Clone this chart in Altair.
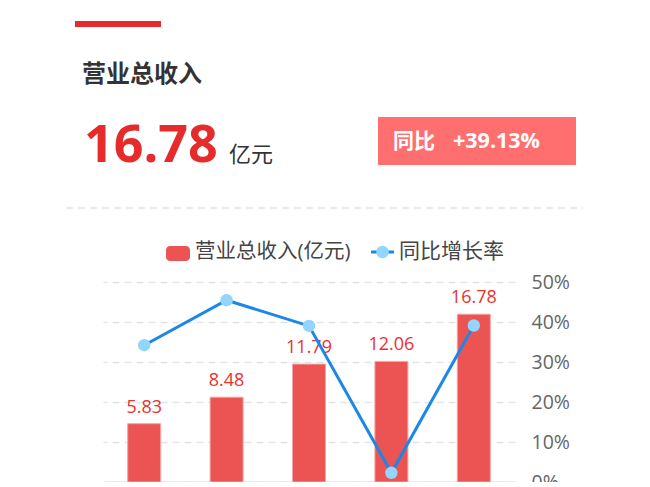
import altair as alt
import pandas as pd

# ---- data ----
periods = ["P1", "P2", "P3", "P4", "P5"]
revenue = [5.83, 8.48, 11.79, 12.06, 16.78]          # 营业总收入(亿元)
growth = [0.342, 0.4545, 0.3903, 0.0229, 0.3913]      # 同比增长率
right_ticks = [0, 0.1, 0.2, 0.3, 0.4, 0.5]

df = pd.DataFrame({"period": periods, "revenue": revenue, "growth": growth})
one = pd.DataFrame({"k": [0]})

FONT = "'Open Sans', 'Noto Sans CJK SC', sans-serif"
CJK = "'Noto Sans CJK SC', sans-serif"
RED = "#E52B2B"
BAR = "#EC5353"
BLUE = "#1B87E6"
DOT = "#92D5FF"

x_enc = alt.X("period:N", sort=periods,
              scale=alt.Scale(paddingInner=0, paddingOuter=0),
              axis=alt.Axis(title=None, labels=False, ticks=False, grid=False,
                            domain=True, domainColor="#F2A3A3", domainWidth=1.5))

bars = alt.Chart(df).mark_bar(size=33, color=BAR, stroke="#F4A6A6", strokeWidth=1).encode(
    x=x_enc,
    y=alt.Y("revenue:Q", scale=alt.Scale(domain=[0, 20]), axis=None),
)
bar_text = alt.Chart(df).mark_text(baseline="alphabetic", dy=-11, fontSize=18,
                                   color="#E8322F", font=FONT).encode(
    x=alt.X("period:N", sort=periods),
    y=alt.Y("revenue:Q", scale=alt.Scale(domain=[0, 20]), axis=None),
    text=alt.Text("revenue:Q", format=".2f"),
)
left = alt.layer(bars, bar_text)

y_right = alt.Y("growth:Q", scale=alt.Scale(domain=[0, 0.5]),
                axis=alt.Axis(orient="right", title=None, format=".0%", values=right_ticks,
                              ticks=False, domain=False, labelPadding=16,
                              labelFontSize=19.5, labelColor="#666666", labelFont=FONT,
                              grid=True, gridColor="#E3E3E3", gridDash=[7, 5], gridWidth=1.5))
line = alt.Chart(df).mark_line(color=BLUE, strokeWidth=3).encode(
    x=alt.X("period:N", sort=periods), y=y_right)
pts = alt.Chart(df).mark_point(filled=True, size=155, color=DOT, opacity=1).encode(
    x=alt.X("period:N", sort=periods), y=y_right)
right = alt.layer(line, pts)

main = alt.layer(left, right).resolve_scale(y="independent")

# ---- header / legend decorations (plot origin at page x=103, y=282) ----
def txt(s, x, y, size, color, weight="normal", baseline="middle", font=CJK):
    return alt.Chart(one).mark_text(align="left", baseline=baseline, fontSize=size,
                                    color=color, fontWeight=weight, font=font).encode(
        x=alt.value(x), y=alt.value(y), text=alt.value(s))

underline = alt.Chart(one).mark_rect(color=RED).encode(
    x=alt.value(-28), x2=alt.value(58), y=alt.value(-261), y2=alt.value(-255))
sep = alt.Chart(one).mark_rule(color="#EBEBEB", strokeWidth=2.5, strokeDash=[7, 5]).encode(
    x=alt.value(-37), x2=alt.value(480), y=alt.value(-74))
box = alt.Chart(one).mark_rect(color="#FF6F6F").encode(
    x=alt.value(275), x2=alt.value(473), y=alt.value(-165), y2=alt.value(-117))

header = [
    underline,
    txt("营业总收入", -21, -207, 24, "#333333", "bold"),
    txt("16.78", -19, -120, 52, RED, "bold", "alphabetic", FONT),
    txt("亿元", 126, -127, 22, "#333333"),
    box,
    txt("同比", 290, -140, 21, "#FFFFFF", "bold"),
    txt("+39.13%", 350, -140, 21.5, "#FFFFFF", "bold", "middle", FONT),
    sep,
]

leg_rect = alt.Chart(one).mark_rect(color=BAR, cornerRadius=4).encode(
    x=alt.value(63), x2=alt.value(87), y=alt.value(-36), y2=alt.value(-21))
leg_line = alt.Chart(one).mark_rule(color=BLUE, strokeWidth=3).encode(
    x=alt.value(268), x2=alt.value(291), y=alt.value(-30))
leg_dot = alt.Chart(one).mark_point(filled=True, size=155, color=DOT, opacity=1).encode(
    x=alt.value(279.5), y=alt.value(-30))
legend = [
    leg_rect,
    txt("营业总收入(亿元)", 92, -30, 20.5, "#444444", "normal", "middle", FONT),
    leg_line, leg_dot,
    txt("同比增长率", 296, -30, 21, "#444444"),
]

chart = alt.layer(main, *header, *legend).properties(
    width=412, height=200,
    autosize=alt.AutoSizeParams(type="none"),
    padding={"left": 95, "top": 274, "right": 127, "bottom": 0},
    background="white",
).configure_view(stroke=None)

chart.save("out.html", embed_options={"renderer": "svg", "actions": False})
